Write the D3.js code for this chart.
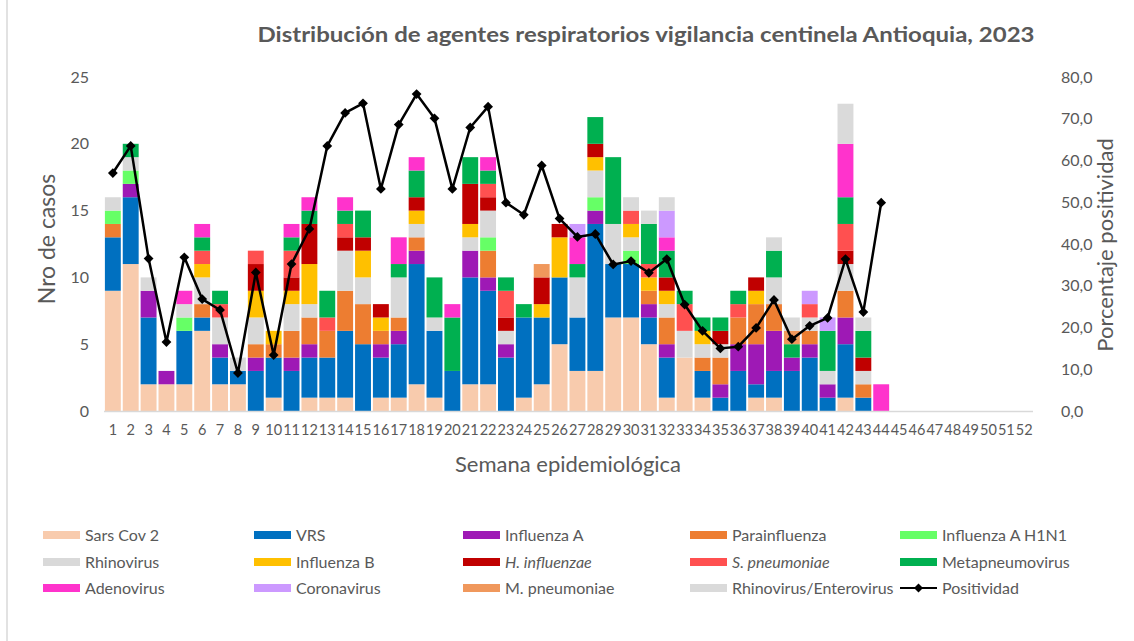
<!DOCTYPE html>
<html><head><meta charset="utf-8">
<script src="https://cdn.jsdelivr.net/npm/d3@7"></script>
<style>
body{margin:0;background:#fff}
svg{display:block}
text{font-family:Lato,"Open Sans",sans-serif;fill:#595959}
</style>
</head><body><svg id="c" width="1134" height="641"></svg>
<script>
const weeks = ["1","2","3","4","5","6","7","8","9","10","11","12","13","14","15","16","17","18","19","20","21","22","23","24","25","26","27","28","29","30","31","32","33","34","35","36","37","38","39","40","41","42","43","44","45","46","47","48","49","50","51","52"];

const seriesNames = ["Sars Cov 2","VRS","Influenza A","Parainfluenza","Influenza A H1N1","Rhinovirus","Influenza B","H. influenzae","S. pneumoniae","Metapneumovirus","Adenovirus","Coronavirus","M. pneumoniae","Rhinovirus/Enterovirus"];
const seriesColors = ["#F8CBAD","#0070C0","#9E19B5","#ED7D31","#66FF66","#D9D9D9","#FFC000","#C00000","#FF5050","#00B050","#FF33CC","#CC99FF","#F0985C","#DADADA"];
const italicNames = ["H. influenzae","S. pneumoniae"];

const sarsCov2   = [9,11,2,2,2,6,2,2,0,1, 0,1,1,1,0,1,1,2,1,0, 2,2,0,1,2,5,3,3,7,7, 5,1,4,1,0,0,1,1,0,0, 0,1,0,0, 0,0,0,0,0,0,0,0];
const vrs        = [4,5,5,0,4,1,2,1,3,3, 3,3,3,5,5,3,4,9,5,3, 8,7,4,6,5,5,4,11,4,4, 2,3,0,2,1,3,1,2,3,4, 1,4,1,0, 0,0,0,0,0,0,0,0];
const influenzaA = [0,1,2,1,0,0,1,0,1,0, 1,1,0,0,0,1,1,1,0,0, 2,1,1,0,0,0,0,1,0,0, 1,1,0,0,1,2,3,3,1,1, 1,2,0,0, 0,0,0,0,0,0,0,0];
const parainfluenza = [1,0,0,0,0,1,0,0,1,1, 2,2,2,3,3,1,1,1,0,0, 0,2,0,0,0,0,0,0,0,0, 1,2,0,1,2,2,3,2,0,1, 0,2,1,0, 0,0,0,0,0,0,0,0];
const h1n1       = [1,1,0,0,1,0,0,0,0,0, 0,0,0,0,0,0,0,0,0,0, 0,1,0,0,0,0,0,1,0,1, 0,0,0,0,0,0,0,0,0,0, 0,0,0,0, 0,0,0,0,0,0,0,0];
const rhinovirus = [1,1,1,0,1,2,2,1,2,0, 2,1,0,3,2,0,3,1,1,0, 1,2,1,0,0,0,3,2,3,1, 0,1,2,1,1,0,0,2,0,1, 1,2,1,0, 0,0,0,0,0,0,0,0];
const influenzaB = [0,0,0,0,0,1,0,0,2,1, 1,3,0,0,2,1,0,1,0,0, 1,0,0,0,1,3,0,1,0,1, 1,1,0,1,0,0,1,0,0,0, 0,0,0,0, 0,0,0,0,0,0,0,0];
const hInfluenzae = [0,0,0,0,0,0,0,0,2,0, 1,3,0,1,1,1,0,1,0,0, 3,1,1,0,2,1,0,1,0,0, 0,1,0,0,1,0,1,0,0,0, 0,1,1,0, 0,0,0,0,0,0,0,0];
const sPneumoniae = [0,0,0,0,0,1,1,0,1,0, 2,0,1,1,0,0,0,0,0,0, 0,1,2,0,0,0,0,0,0,1, 1,0,2,0,0,1,0,0,0,1, 0,2,0,0, 0,0,0,0,0,0,0,0];
const metapneumovirus = [0,1,0,0,0,1,1,0,0,0, 1,1,2,1,2,0,1,2,3,4, 2,1,1,1,0,0,1,2,5,0, 3,2,1,1,1,1,0,2,1,0, 3,2,2,0, 0,0,0,0,0,0,0,0];
const adenovirus = [0,0,0,0,1,1,0,0,0,0, 1,1,0,1,0,0,2,1,0,1, 0,1,0,0,0,0,2,0,0,0, 0,1,0,0,0,0,0,0,0,0, 0,4,0,2, 0,0,0,0,0,0,0,0];
const coronavirus = [0,0,0,0,0,0,0,0,0,0, 0,0,0,0,0,0,0,0,0,0, 0,0,0,0,0,0,1,0,0,0, 0,2,0,0,0,0,0,0,0,1, 1,0,0,0, 0,0,0,0,0,0,0,0];
const mPneumoniae = [0,0,0,0,0,0,0,0,0,0, 0,0,0,0,0,0,0,0,0,0, 0,0,0,0,1,0,0,0,0,0, 0,0,0,0,0,0,0,0,1,0, 0,0,0,0, 0,0,0,0,0,0,0,0];
const rhinoEntero = [0,0,0,0,0,0,0,0,0,0, 0,0,0,0,0,0,0,0,0,0, 0,0,0,0,0,0,0,0,0,1, 1,1,0,0,0,0,0,1,1,0, 0,3,1,0, 0,0,0,0,0,0,0,0];

const positividad = [57.0,63.5,36.5,16.5,36.8,26.8,24.2,9.1,33.2,13.4, 35.2,43.6,63.5,71.4,73.7,53.2,68.6,75.9,70.1,53.2, 67.9,72.9,49.9,47.0,58.8,46.1,41.7,42.4,35.1,35.9, 33.1,36.4,25.5,19.2,15.0,15.4,19.9,26.6,17.2,20.4, 22.3,36.4,23.7,49.9];

const leftTicks = [0,5,10,15,20,25];
const rightTicks = [0,10,20,30,40,50,60,70,80];

const seriesValues = [sarsCov2,vrs,influenzaA,parainfluenza,h1n1,rhinovirus,influenzaB,hInfluenzae,sPneumoniae,metapneumovirus,adenovirus,coronavirus,mPneumoniae,rhinoEntero];

const rows = weeks.map((w,i)=>{
  const r = {week:w};
  seriesNames.forEach((n,j)=>{ r[n] = seriesValues[j][i]; });
  return r;
});

const svg = d3.select("#c");
const W = 1134, H = 641;
const pLeft = 104, pRight = 1033, pTop = 77, pBottom = 411;

// left border line
svg.append("line").attr("x1",7).attr("x2",7).attr("y1",0).attr("y2",H)
  .attr("stroke","#D9D9D9").attr("stroke-width",1.5);

const x = d3.scaleBand().domain(weeks).range([pLeft,pRight]).paddingInner(0.11).paddingOuter(0.05);
const y = d3.scaleLinear().domain([0,25]).range([pBottom,pTop]);
const y2 = d3.scaleLinear().domain([0,80]).range([pBottom,pTop]);

const stacked = d3.stack().keys(seriesNames)(rows);

svg.append("g").selectAll("g").data(stacked).join("g")
  .attr("fill",(d,i)=>seriesColors[i])
  .selectAll("rect").data(d=>d).join("rect")
  .attr("x",d=>x(d.data.week))
  .attr("width",x.bandwidth())
  .attr("y",d=>y(d[1]))
  .attr("height",d=>y(d[0])-y(d[1]));

// x axis baseline
svg.append("line").attr("x1",pLeft).attr("x2",pRight).attr("y1",pBottom+0.5).attr("y2",pBottom+0.5)
  .attr("stroke","#D9D9D9").attr("stroke-width",1.5);

// x tick labels
const xAxis = d3.axisBottom(x).tickSize(0).tickPadding(14);
const gx = svg.append("g").attr("transform",`translate(0,${pBottom})`).call(xAxis);
gx.select(".domain").remove();
gx.selectAll("text").style("font-size","14.5px").attr("fill","#595959").style("font-family","Lato, sans-serif");

// left axis
const yAxis = d3.axisLeft(y).tickValues(leftTicks).tickSize(0).tickPadding(0);
const gy = svg.append("g").attr("transform",`translate(89,0)`).call(yAxis);
gy.select(".domain").remove();
gy.selectAll("text").style("font-size","16px").attr("fill","#595959");

// right axis
const y2Axis = d3.axisRight(y2).tickValues(rightTicks).tickSize(0).tickPadding(0)
  .tickFormat(d=>d3.format(".1f")(d).replace(".",","));
const gy2 = svg.append("g").attr("transform",`translate(1061,0)`).call(y2Axis);
gy2.select(".domain").remove();
gy2.selectAll("text").style("font-size","16px").attr("fill","#595959");

// positivity line
const pts = positividad.map((v,i)=>({week:weeks[i],v}));
const line = d3.line().x(d=>x(d.week)+x.bandwidth()/2).y(d=>y2(d.v));
svg.append("path").datum(pts).attr("d",line).attr("fill","none")
  .attr("stroke","#000").attr("stroke-width",2.5).attr("stroke-linejoin","round");
const diamond = d3.symbol().type(d3.symbolSquare).size(48);
svg.append("g").selectAll("path").data(pts).join("path")
  .attr("d",diamond)
  .attr("transform",d=>`translate(${x(d.week)+x.bandwidth()/2},${y2(d.v)}) rotate(45)`)
  .attr("fill","#000");

// title
svg.append("text").attr("x",646).attr("y",42).attr("text-anchor","middle")
  .style("font-size","20px").style("font-weight","bold").attr("fill","#404040")
  .attr("textLength",777).attr("lengthAdjust","spacingAndGlyphs")
  .text("Distribución de agentes respiratorios vigilancia centinela Antioquia, 2023");

// axis titles
svg.append("text").attr("transform","translate(55,239) rotate(-90)").attr("text-anchor","middle")
  .style("font-size","23px").attr("fill","#595959").text("Nro de casos");
svg.append("text").attr("transform","translate(1113,245) rotate(-90)").attr("text-anchor","middle")
  .style("font-size","22px").attr("fill","#595959").text("Porcentaje positividad");
svg.append("text").attr("x",568).attr("y",472).attr("text-anchor","middle")
  .style("font-size","22px").attr("fill","#595959").text("Semana epidemiológica");

// legend
const colX = [43,254,463,690,900];
const rowY = [535,562,588];
const legendItems = seriesNames.map((n,i)=>({name:n,color:seriesColors[i]}));
legendItems.push({name:"Positividad",line:true});
const lg = svg.append("g");
legendItems.forEach((it,i)=>{
  const cx = colX[i%5], cy = rowY[Math.floor(i/5)];
  if(it.line){
    lg.append("line").attr("x1",cx).attr("x2",cx+37).attr("y1",cy).attr("y2",cy)
      .attr("stroke","#000").attr("stroke-width",2);
    lg.append("path").attr("d",d3.symbol().type(d3.symbolSquare).size(40)())
      .attr("transform",`translate(${cx+18.5},${cy}) rotate(45)`).attr("fill","#000");
  } else {
    lg.append("rect").attr("x",cx).attr("y",cy-4).attr("width",37).attr("height",8).attr("fill",it.color);
  }
  lg.append("text").attr("x",cx+42).attr("y",cy).attr("dy","0.35em")
    .style("font-size","16px").attr("fill","#595959")
    .style("font-style",italicNames.includes(it.name)?"italic":"normal")
    .text(it.name);
});
</script>
</body></html>
